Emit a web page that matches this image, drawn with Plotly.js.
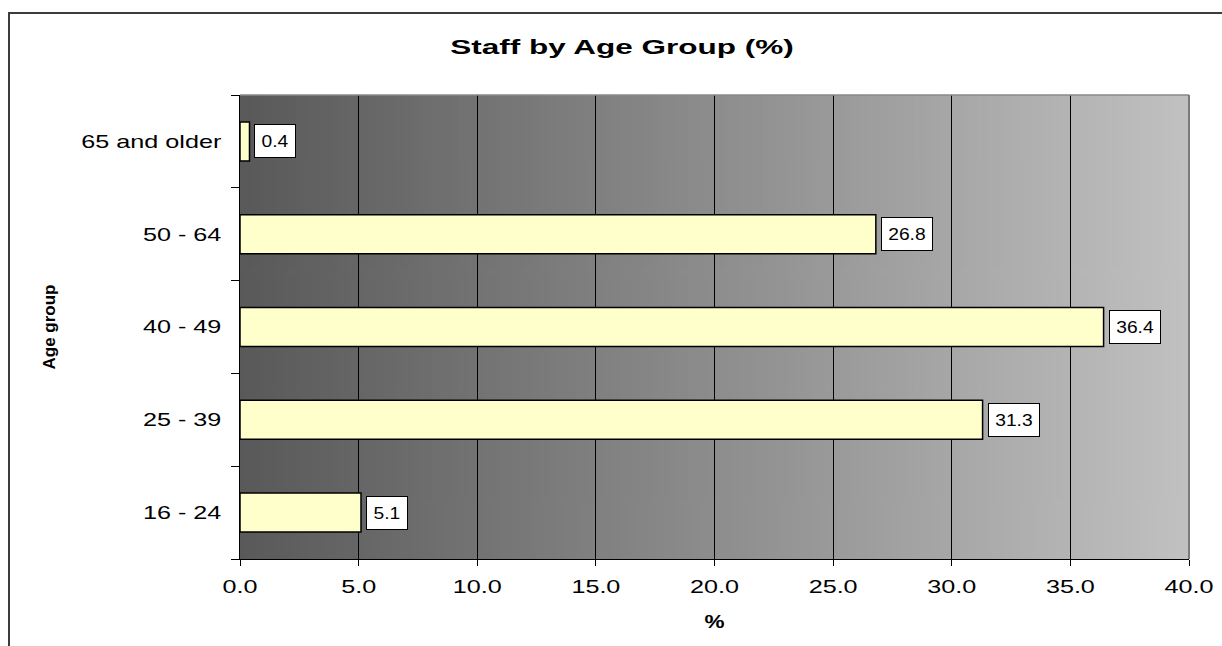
<!DOCTYPE html>
<html>
<head>
<meta charset="utf-8">
<script src="https://cdn.plot.ly/plotly-3.0.1.min.js"></script>
<style>
  html, body { margin: 0; padding: 0; background: #fff; overflow: hidden; }
  #chart { position: absolute; left: 0; top: 0; width: 1222px; height: 646px; }
  #frame { position: absolute; left: 8px; top: 12px; right: -20px; bottom: -20px;
           border-left: 2px solid #3c3c3c; border-top: 2px solid #3c3c3c; pointer-events: none; }
</style>
</head>
<body>
<div id="chart"></div>
<div id="frame"></div>
<script>
// ---- data ----
const categories = ['16 - 24', '25 - 39', '40 - 49', '50 - 64', '65 and older'];
const values = [5.1, 31.3, 36.4, 26.8, 0.4];
const xTickValues = [0, 5, 10, 15, 20, 25, 30, 35, 40];
const chartTitle = 'Staff by Age Group (%)';
const xTitle = '%';
const yTitle = 'Age group';

// horizontal widening of text glyphs seen in the reference rendering
const STRETCH = { title: 1.5, ticks: 1.36, labels: 1.2, xtitle: 1.25 };

function gradientURL(c0, c1) {
  const cv = document.createElement('canvas');
  cv.width = 512; cv.height = 4;
  const ctx = cv.getContext('2d');
  const g = ctx.createLinearGradient(0, 0, 512, 0);
  g.addColorStop(0, c0);
  g.addColorStop(1, c1);
  ctx.fillStyle = g;
  ctx.fillRect(0, 0, 512, 4);
  return cv.toDataURL('image/png');
}

const FONT = 'Liberation Sans, Arial, Helvetica, sans-serif';

const trace = {
  type: 'bar',
  orientation: 'h',
  y: categories,
  x: values,
  marker: { color: '#FFFFCC', line: { color: '#000000', width: 1.5 } },
  width: 0.42,
  hoverinfo: 'x+y'
};

const annotations = values.map((v, i) => ({
  x: v, y: categories[i], xref: 'x', yref: 'y',
  text: v.toFixed(1),
  showarrow: false,
  xanchor: 'left', yanchor: 'middle',
  xshift: 5,
  height: 20,
  bgcolor: '#FFFFFF',
  bordercolor: '#000000',
  borderwidth: 1,
  borderpad: 6,
  font: { family: FONT, size: 16, color: '#000' }
}));

const layout = {
  width: 1222, height: 646,
  margin: { l: 240, r: 33, t: 95, b: 87 },
  paper_bgcolor: '#FFFFFF',
  plot_bgcolor: '#FFFFFF',
  showlegend: false,
  title: {
    text: chartTitle,
    font: { family: FONT, size: 21, color: '#000', weight: 'bold' },
    x: 622 / 1222, xref: 'container', xanchor: 'center',
    y: 1 - 47 / 646, yref: 'container', yanchor: 'middle'
  },
  xaxis: {
    range: [0, 40],
    tickvals: xTickValues,
    tickformat: '.1f',
    tickangle: 0,
    showgrid: true, gridcolor: '#000000', gridwidth: 1,
    zeroline: false,
    showline: true, linecolor: '#000000', linewidth: 1,
    ticks: 'outside', ticklen: 6, tickcolor: '#000000', tickwidth: 1,
    ticklabelstandoff: 5,
    tickfont: { family: FONT, size: 18.5, color: '#000' },
    title: { text: xTitle, font: { family: FONT, size: 18, color: '#000', weight: 'bold' }, standoff: 19 },
    fixedrange: true
  },
  yaxis: {
    type: 'category',
    categoryorder: 'array', categoryarray: categories,
    showgrid: false, zeroline: false,
    showline: true, linecolor: '#000000', linewidth: 1,
    ticks: 'outside', ticklen: 8, tickcolor: '#000000', tickwidth: 1,
    tickson: 'boundaries',
    ticklabelstandoff: 14,
    tickfont: { family: FONT, size: 18.5, color: '#000' },
    title: { text: yTitle, font: { family: FONT, size: 17, color: '#000', weight: 'bold' }, standoff: 58 },
    fixedrange: true
  },
  images: [{
    source: gradientURL('#595959', '#c1c1c1'),
    xref: 'paper', yref: 'paper',
    x: 0, y: 1, sizex: 1, sizey: 1,
    xanchor: 'left', yanchor: 'top',
    sizing: 'stretch', layer: 'below'
  }],
  shapes: [
    { type: 'line', xref: 'paper', yref: 'paper', x0: 0, x1: 1, y0: 1, y1: 1,
      line: { color: '#8a8a8a', width: 1.5 }, layer: 'above' },
    { type: 'line', xref: 'paper', yref: 'paper', x0: 1, x1: 1, y0: 0, y1: 1,
      line: { color: '#7a7a7a', width: 2 }, layer: 'above' }
  ],
  annotations: annotations,
  bargap: 0.58
};

function widen(selector, factor) {
  document.querySelectorAll(selector).forEach(t => {
    t.removeAttribute('textLength');
    t.removeAttribute('lengthAdjust');
    const L = t.getComputedTextLength();
    if (L > 0) {
      t.setAttribute('textLength', (L * factor).toFixed(2));
      t.setAttribute('lengthAdjust', 'spacingAndGlyphs');
    }
  });
}

const gd = document.getElementById('chart');
Plotly.newPlot(gd, [trace], layout, { displayModeBar: false, staticPlot: true })
  .then(() => {
    // widen annotation boxes to hold the widened label text
    const texts = gd.querySelectorAll('.annotation .annotation-text');
    const upd = {};
    texts.forEach((t, i) => {
      upd['annotations[' + i + '].width'] = Math.round(t.getComputedTextLength() * STRETCH.labels) + 1;
    });
    return Plotly.relayout(gd, upd);
  })
  .then(() => {
    widen('.gtitle', STRETCH.title);
    widen('.xtick text', STRETCH.ticks);
    widen('.ytick text', STRETCH.ticks);
    widen('.xtitle', STRETCH.xtitle);
    widen('.annotation .annotation-text', STRETCH.labels);
  });
</script>
</body>
</html>
